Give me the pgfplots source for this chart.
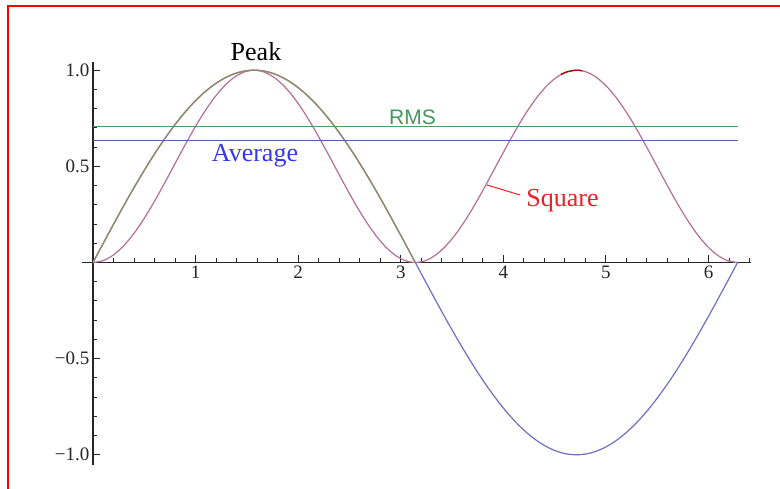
\documentclass[border=0pt]{standalone}
\usepackage{pgfplots}
\pgfplotsset{compat=1.18}
\usepackage{pgfplotstable}
\usepackage{fontspec}
\setmainfont{Liberation Serif}
\newfontfamily\arialfont{Liberation Sans}

\definecolor{sinc}{RGB}{112,112,192}
\definecolor{sqc}{RGB}{178,112,152}
\definecolor{peakc}{RGB}{150,138,98}
\definecolor{rmsc}{RGB}{78,156,96}
\definecolor{avgc}{RGB}{82,100,170}
\definecolor{avgtxt}{RGB}{55,55,235}
\definecolor{sqtxt}{RGB}{240,30,40}
\definecolor{rmstxt}{RGB}{70,150,95}

\pgfplotstableread{
x y
0.0000 0.0000
0.0982 0.0980
0.1963 0.1951
0.2945 0.2903
0.3927 0.3827
0.4909 0.4714
0.5890 0.5556
0.6872 0.6344
0.7854 0.7071
0.8836 0.7730
0.9817 0.8315
1.0799 0.8819
1.1781 0.9239
1.2763 0.9569
1.3744 0.9808
1.4726 0.9952
1.5708 1.0000
1.6690 0.9952
1.7671 0.9808
1.8653 0.9569
1.9635 0.9239
2.0617 0.8819
2.1598 0.8315
2.2580 0.7730
2.3562 0.7071
2.4544 0.6344
2.5525 0.5556
2.6507 0.4714
2.7489 0.3827
2.8471 0.2903
2.9452 0.1951
3.0434 0.0980
3.1416 0.0000
3.2398 -0.0980
3.3379 -0.1951
3.4361 -0.2903
3.5343 -0.3827
3.6325 -0.4714
3.7306 -0.5556
3.8288 -0.6344
3.9270 -0.7071
4.0252 -0.7730
4.1233 -0.8315
4.2215 -0.8819
4.3197 -0.9239
4.4179 -0.9569
4.5160 -0.9808
4.6142 -0.9952
4.7124 -1.0000
4.8106 -0.9952
4.9087 -0.9808
5.0069 -0.9569
5.1051 -0.9239
5.2033 -0.8819
5.3014 -0.8315
5.3996 -0.7730
5.4978 -0.7071
5.5960 -0.6344
5.6941 -0.5556
5.7923 -0.4714
5.8905 -0.3827
5.9887 -0.2903
6.0868 -0.1951
6.1850 -0.0980
6.2832 0.0000
}\sintable

\pgfplotstableread{
x y
0.0000 0.0000
0.0982 0.0096
0.1963 0.0381
0.2945 0.0843
0.3927 0.1464
0.4909 0.2222
0.5890 0.3087
0.6872 0.4025
0.7854 0.5000
0.8836 0.5975
0.9817 0.6913
1.0799 0.7778
1.1781 0.8536
1.2763 0.9157
1.3744 0.9619
1.4726 0.9904
1.5708 1.0000
1.6690 0.9904
1.7671 0.9619
1.8653 0.9157
1.9635 0.8536
2.0617 0.7778
2.1598 0.6913
2.2580 0.5975
2.3562 0.5000
2.4544 0.4025
2.5525 0.3087
2.6507 0.2222
2.7489 0.1464
2.8471 0.0843
2.9452 0.0381
3.0434 0.0096
3.1416 0.0000
3.2398 0.0096
3.3379 0.0381
3.4361 0.0843
3.5343 0.1464
3.6325 0.2222
3.7306 0.3087
3.8288 0.4025
3.9270 0.5000
4.0252 0.5975
4.1233 0.6913
4.2215 0.7778
4.3197 0.8536
4.4179 0.9157
4.5160 0.9619
4.6142 0.9904
4.7124 1.0000
4.8106 0.9904
4.9087 0.9619
5.0069 0.9157
5.1051 0.8536
5.2033 0.7778
5.3014 0.6913
5.3996 0.5975
5.4978 0.5000
5.5960 0.4025
5.6941 0.3087
5.7923 0.2222
5.8905 0.1464
5.9887 0.0843
6.0868 0.0381
6.1850 0.0096
6.2832 0.0000
}\sqtable

\begin{document}
\begin{tikzpicture}
\useasboundingbox (0,0) rectangle (780pt,489pt);
\fill[white] (0,0) rectangle (780pt,489pt);
\draw[red, line width=2pt] (7.5pt,0) -- (7.5pt,483pt) -- (780pt,483pt);
\begin{axis}[
  at={(81.7pt,24pt)}, anchor=south west,
  scale only axis, width=668.9pt, height=402.7pt,
  xmin=-0.11, xmax=6.41, ymin=-1.053, ymax=1.041,
  axis lines=middle,
  axis line style={-, line width=1.2pt, black!85},
  xtick={1,2,3,4,5,6}, xticklabels={1,2,3,4,5,6},
  ytick={-1,-0.5,0.5,1}, yticklabels={−1.0,−0.5,0.5,1.0},
  minor xtick={0.2,0.4,...,6.4},
  minor ytick={-1,-0.9,...,1},
  tick align=inside,
  major tick length=7pt, minor tick length=4pt,
  tick style={line width=1pt, black!85},
  ticklabel style={font=\fontsize{19}{22}\selectfont, text=black!85},
  clip=false,
]
\addplot[sinc, line width=1.2pt, smooth] table {\sintable};
\addplot[sqc, line width=1.2pt, smooth] table {\sqtable};
\addplot[peakc, line width=1.3pt, smooth, restrict x to domain=0:3.15] table {\sintable};
\addplot[rmsc, line width=1.3pt] coordinates {(0,0.7071) (6.2832,0.7071)};
\addplot[avgc, line width=1.1pt] coordinates {(0,0.6366) (6.2832,0.6366)};
\addplot[red!70!black, line width=1.3pt, smooth] coordinates {(4.56,0.977) (4.6142,0.9904) (4.7124,1.0) (4.77,0.9967)};
\addplot[sqtxt, line width=1pt] coordinates {(3.840,0.403) (4.162,0.351)};
\node[anchor=base, font=\fontsize{26}{30}\selectfont, text=black] at (axis cs:1.589,1.048) {Peak};
\node[anchor=base, font=\fontsize{26}{30}\selectfont, text=avgtxt] at (axis cs:1.579,0.523) {Average};
\node[anchor=base, font=\arialfont\fontsize{21}{25}\selectfont, text=rmstxt] at (axis cs:3.114,0.720) {RMS};
\node[anchor=base, font=\fontsize{26}{30}\selectfont, text=sqtxt] at (axis cs:4.576,0.291) {Square};
\end{axis}
\end{tikzpicture}
\end{document}
